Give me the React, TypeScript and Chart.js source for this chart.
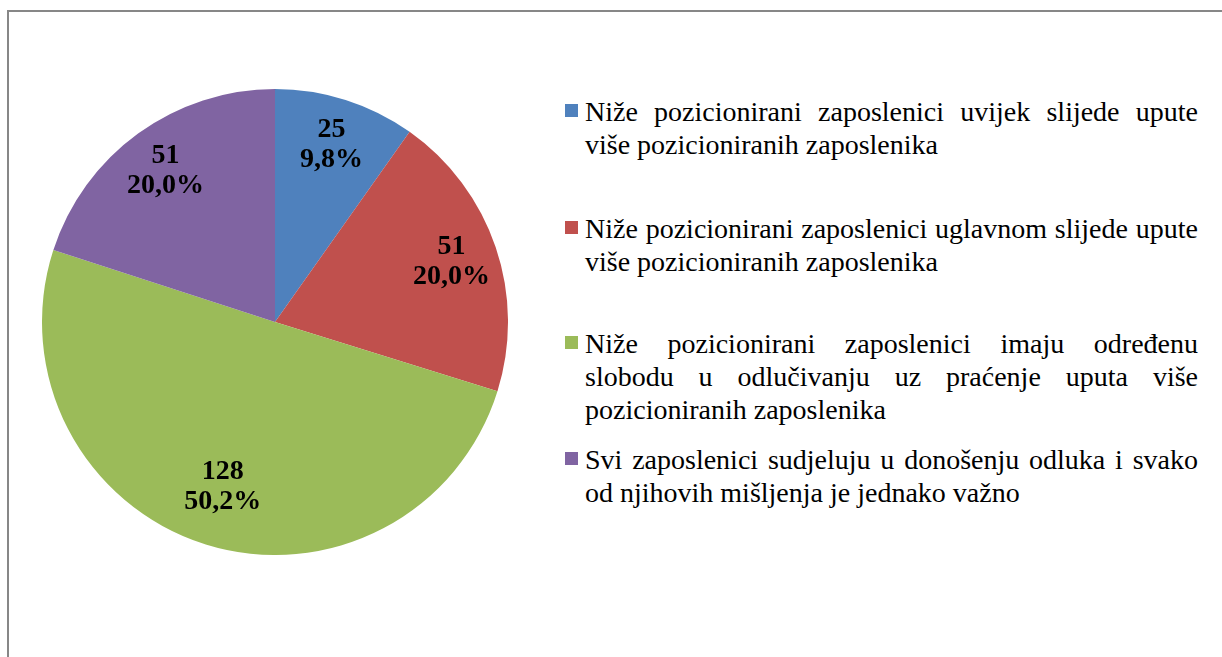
import React, { useEffect, useRef } from "react";
import { Chart, registerables } from "chart.js";

Chart.register(...registerables);

const categories: string[] = [
  "Niže pozicionirani zaposlenici uvijek slijede upute\nviše pozicioniranih zaposlenika",
  "Niže pozicionirani zaposlenici uglavnom slijede upute\nviše pozicioniranih zaposlenika",
  "Niže pozicionirani zaposlenici imaju određenu\nslobodu u odlučivanju uz praćenje uputa više\npozicioniranih zaposlenika",
  "Svi zaposlenici sudjeluju u donošenju odluka i svako\nod njihovih mišljenja je jednako važno",
];
const values: number[] = [25, 51, 128, 51];
const percentLabels: string[] = ["9,8%", "20,0%", "50,2%", "20,0%"];
const colors: string[] = ["#4F81BD", "#C0504D", "#9BBB59", "#8064A2"];
const legendTops: number[] = [95, 212, 327, 443];

const SERIF = "'Liberation Serif', Tinos, 'Times New Roman', Times, 'DejaVu Serif', serif";

const labelPlugin = {
  id: "sliceLabels",
  afterDatasetsDraw(chart: any) {
    const ctx = chart.ctx;
    const meta = chart.getDatasetMeta(0);
    ctx.save();
    ctx.font = "bold 28px " + SERIF;
    ctx.fillStyle = "#000";
    ctx.textAlign = "center";
    ctx.textBaseline = "middle";
    meta.data.forEach((arc: any, i: number) => {
      const { x, y, startAngle, endAngle, outerRadius } = arc.getProps(
        ["x", "y", "startAngle", "endAngle", "outerRadius"],
        true
      );
      const mid = (startAngle + endAngle) / 2;
      const r = outerRadius * (i === 2 ? 0.74 : 0.8);
      const cx = x + Math.cos(mid) * r;
      const cy = y + Math.sin(mid) * r;
      ctx.fillText(String(values[i]), cx, cy - 15);
      ctx.fillText(percentLabels[i], cx, cy + 15);
    });
    ctx.restore();
  },
};

export default function App() {
  const canvasRef = useRef<HTMLCanvasElement | null>(null);

  useEffect(() => {
    if (!canvasRef.current) return;
    const chart = new Chart(canvasRef.current, {
      type: "pie",
      data: {
        labels: categories.map((c) => c.replace(/\n/g, " ")),
        datasets: [
          {
            data: values,
            backgroundColor: colors,
            borderWidth: 0,
          },
        ],
      },
      options: {
        animation: false,
        responsive: false,
        maintainAspectRatio: false,
        layout: { padding: 0 },
        plugins: {
          legend: { display: false },
          tooltip: { enabled: false },
        },
      },
      plugins: [labelPlugin],
    });
    return () => chart.destroy();
  }, []);

  return (
    <div
      style={{
        position: "fixed",
        left: 0,
        top: 0,
        width: 1222,
        height: 657,
        overflow: "hidden",
        background: "#fff",
        fontFamily: SERIF,
      }}
    >
      <div
        style={{
          position: "absolute",
          left: 7,
          top: 10,
          width: 1240,
          height: 700,
          borderLeft: "2px solid #878787",
          borderTop: "2px solid #878787",
        }}
      />
      <canvas
        ref={canvasRef}
        width={466}
        height={466}
        style={{ position: "absolute", left: 42, top: 89, width: 466, height: 466 }}
      />
      {categories.map((c, i) => {
        const lines = c.split("\n");
        return (
          <div
            key={i}
            style={{
              position: "absolute",
              left: 565,
              top: legendTops[i],
              width: 633,
            }}
          >
            <div
              style={{
                position: "absolute",
                left: 0,
                top: 9,
                width: 13,
                height: 13,
                background: colors[i],
              }}
            />
            <div style={{ marginLeft: 20, fontSize: 28, lineHeight: "33px", color: "#000" }}>
              {lines.map((ln, j) => (
                <div
                  key={j}
                  style={{
                    whiteSpace: "nowrap",
                    textAlign: j < lines.length - 1 ? "justify" : "left",
                    textAlignLast: j < lines.length - 1 ? "justify" : "left",
                  }}
                >
                  {ln}
                </div>
              ))}
            </div>
          </div>
        );
      })}
    </div>
  );
}
